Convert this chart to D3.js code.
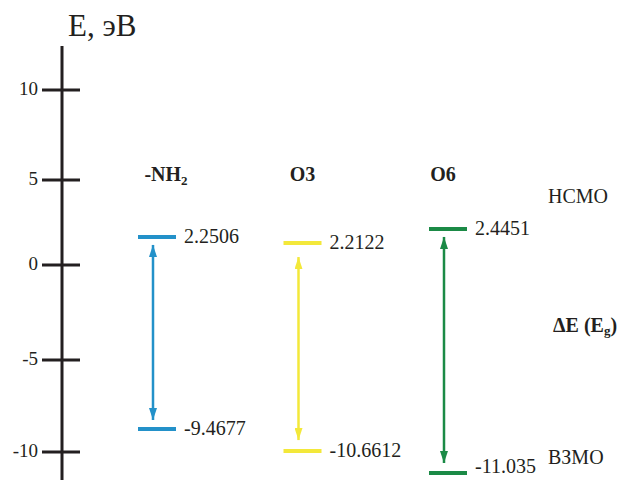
<!DOCTYPE html>
<html><head><meta charset="utf-8">
<script src="https://cdn.jsdelivr.net/npm/d3@7/dist/d3.min.js"></script>
<style>body{margin:0;background:#fff;}svg{display:block;}</style>
</head><body>
<svg id="c" width="630" height="480"></svg>
<script>
// ---- data ----
const molecules = ["-NH2", "O3", "O6"];
// drawn (schematic) level positions, eV
const lumoLevel = [1.65, 1.29, 2.12];
const homoLevel = [-8.75, -9.95, -11.14];
// printed values
const lumoLabels = ["2.2506", "2.2122", "2.4451"];
const homoLabels = ["-9.4677", "-10.6612", "-11.035"];
const colors = ["#2391c9", "#f3e83a", "#1b8a46"];
const tickValues = [10, 5, 0, -5, -10];
const axisTitle = "E, эВ";
const lumoName = "НСМО", homoName = "ВЗМО";

const svg = d3.select("#c");
const serif = "'Liberation Serif','Times New Roman','DejaVu Serif',serif";

const y = d3.scaleLinear().domain([-10, -5, 0, 5, 10]).range([452, 360, 265, 180, 90]);
const x = d3.scalePoint().domain(molecules).range([157, 448]);

// axis
const axX = 62;
svg.append("line").attr("x1", axX).attr("x2", axX).attr("y1", 46).attr("y2", 480)
  .attr("stroke", "#231f20").attr("stroke-width", 3);
const tk = svg.append("g").selectAll("g").data(tickValues).join("g")
  .attr("transform", d => `translate(0,${y(d)})`);
tk.append("line").attr("x1", 42).attr("x2", 80).attr("stroke", "#231f20").attr("stroke-width", 3);
tk.append("text").attr("x", 38).attr("y", 1).attr("text-anchor", "end")
  .attr("dominant-baseline", "middle").attr("font-family", serif).attr("font-size", 19)
  .attr("fill", "#231f20").text(d => d);

svg.append("text").attr("x", 68).attr("y", 36).attr("font-family", serif).attr("font-size", 31)
  .attr("fill", "#231f20").text(axisTitle);

// defs markers
const defs = svg.append("defs");
colors.forEach((c, i) => {
  defs.append("marker").attr("id", "ah" + i).attr("viewBox", "0 0 12 8")
    .attr("refX", 12).attr("refY", 4).attr("markerWidth", 12).attr("markerHeight", 8)
    .attr("markerUnits", "userSpaceOnUse").attr("orient", "auto-start-reverse")
    .append("path").attr("d", "M0,0 L12,4 L0,8 Z").attr("fill", c);
});

const half = 19;
const g = svg.append("g").selectAll("g").data(molecules).join("g");
// headers
g.append("text").attr("x", (d, i) => x(d) + [9, 0, -5][i]).attr("y", 181)
  .attr("text-anchor", "middle").attr("font-family", serif).attr("font-size", 20)
  .attr("font-weight", "bold").attr("fill", "#231f20")
  .each(function(d) {
    const t = d3.select(this);
    if (d === "-NH2") {
      t.append("tspan").text("-NH");
      t.append("tspan").attr("font-size", 13).attr("dy", 4).text("2");
    } else t.text(d);
  });
// levels
g.append("line").attr("x1", d => x(d) - half).attr("x2", d => x(d) + half)
  .attr("y1", (d, i) => y(lumoLevel[i])).attr("y2", (d, i) => y(lumoLevel[i]))
  .attr("stroke", (d, i) => colors[i]).attr("stroke-width", 4);
g.append("line").attr("x1", d => x(d) - half).attr("x2", d => x(d) + half)
  .attr("y1", (d, i) => y(homoLevel[i])).attr("y2", (d, i) => y(homoLevel[i]))
  .attr("stroke", (d, i) => colors[i]).attr("stroke-width", 4);
// labels
g.append("text").attr("x", d => x(d) + half + 8).attr("y", (d, i) => y(lumoLevel[i]) + 1)
  .attr("dominant-baseline", "middle").attr("font-family", serif).attr("font-size", 20)
  .attr("fill", "#231f20").text((d, i) => lumoLabels[i]);
g.append("text").attr("x", d => x(d) + half + 8).attr("y", (d, i) => Math.min(y(homoLevel[i]) + 1, 468))
  .attr("dominant-baseline", "middle").attr("font-family", serif).attr("font-size", 20)
  .attr("fill", "#231f20").text((d, i) => homoLabels[i]);
// arrows
const gapTop = [8, 14, 8], gapBot = [9, 11, 10];
g.append("line").attr("x1", d => x(d) - 4).attr("x2", d => x(d) - 4)
  .attr("y1", (d, i) => y(lumoLevel[i]) + gapTop[i]).attr("y2", (d, i) => y(homoLevel[i]) - gapBot[i])
  .attr("stroke", (d, i) => colors[i]).attr("stroke-width", 2.5)
  .attr("marker-start", (d, i) => `url(#ah${i})`).attr("marker-end", (d, i) => `url(#ah${i})`);

// side notes
svg.append("text").attr("x", 548).attr("y", 198).attr("dominant-baseline", "middle")
  .attr("font-family", serif).attr("font-size", 20).attr("fill", "#231f20").text(lumoName);
svg.append("text").attr("x", 548).attr("y", 459).attr("dominant-baseline", "middle")
  .attr("font-family", serif).attr("font-size", 20).attr("fill", "#231f20").text(homoName);
const de = svg.append("text").attr("x", 553).attr("y", 332)
  .attr("font-family", serif).attr("font-size", 20).attr("font-weight", "bold").attr("fill", "#231f20");
de.append("tspan").text("ΔE (E");
de.append("tspan").attr("font-size", 13).attr("dy", 3).text("g");
de.append("tspan").attr("dy", -3).text(")");
</script>
</body></html>
